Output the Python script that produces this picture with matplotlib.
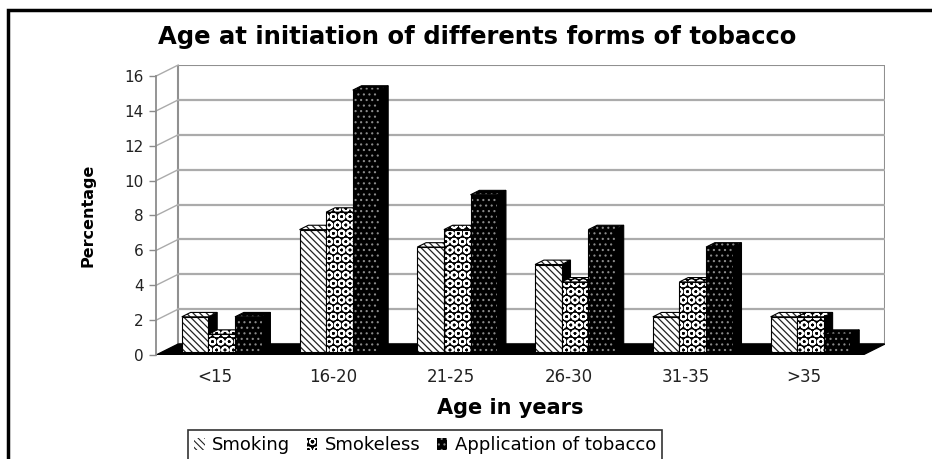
import matplotlib
matplotlib.use("Agg")
import matplotlib.pyplot as plt
from matplotlib.patches import Polygon, Rectangle

plt.rcParams['font.family'] = ['DejaVu Sans']
plt.rcParams['hatch.linewidth'] = 0.8

ages = ['<15', '16-20', '21-25', '26-30', '31-35', '>35']
smoking = [2, 7, 6, 5, 2, 2]
smokeless = [1, 8, 7, 4, 4, 2]
application = [2, 15, 9, 7, 6, 1]
series_names = ['Smoking', 'Smokeless', 'Application of tobacco']
yticks = [0, 2, 4, 6, 8, 10, 12, 14, 16]

# fill styles per series: face, hatch colour, hatch, hatch line width
styles = [
    dict(fc='white', hc='#222222', hatch='\\\\\\\\\\', hlw=0.9),
    dict(fc='black', hc='white', hatch='OO', hlw=1.3),
    dict(fc='black', hc='#8a8a8a', hatch='...', hlw=0.8),
]


def patterned(cls, *args, st, **kw):
    # hatch line width is picked up when the patch is built
    with plt.rc_context({'hatch.linewidth': st['hlw']}):
        return cls(*args, fc=st['fc'], ec=st['hc'], hatch=st['hatch'], lw=0, **kw)


W, H = 932, 459
fig = plt.figure(figsize=(W / 100, H / 100), dpi=100)

# wall depth in data units (oblique projection)
DX, DY = 0.187, 0.63
ax = fig.add_axes([156.2 / W, 104 / H, 728.6 / W, 290 / H])
ax.set_xlim(-0.5, len(ages) - 0.5 + DX)
ax.set_ylim(0, 16 + DY)
for s in ['top', 'right', 'bottom']:
    ax.spines[s].set_visible(False)
ax.spines['left'].set_color('#8c8c8c')
ax.spines['left'].set_linewidth(1.3)
ax.spines['left'].set_bounds(0, 16)

grid = '#ababab'
x_left, x_right = -0.5, len(ages) - 0.5
# back wall and side wall
ax.add_patch(Rectangle((x_left + DX, DY), x_right - x_left, 16,
                       fc='white', ec='#909090', lw=1.5, zorder=1))
for v in yticks[1:-1]:
    ax.plot([x_left + DX, x_right + DX], [v + DY, v + DY], color=grid, lw=1.6, zorder=1.1)
for v in yticks[1:]:
    ax.plot([x_left, x_left + DX], [v, v + DY], color=grid, lw=1.0, zorder=1.1, clip_on=False)

# floor
ax.add_patch(Polygon([(x_left, 0), (x_right, 0), (x_right + DX, DY), (x_left + DX, DY)],
                     closed=True, fc='black', ec='black', lw=1, zorder=2))

bw = 0.226
f0, fb = 0.3, 0.4
bdx, bdy = fb * DX, fb * DY
z = 3
for i in range(len(ages)):
    for k, vals in enumerate([smoking, smokeless, application]):
        st = styles[k]
        v = vals[i]
        x0 = i + (k - 1.5) * bw + f0 * DX
        x1 = x0 + bw
        y0 = f0 * DY
        y1 = y0 + v
        side = [(x1, y0), (x1 + bdx, y0 + bdy), (x1 + bdx, y1 + bdy), (x1, y1)]
        top = [(x0, y1), (x1, y1), (x1 + bdx, y1 + bdy), (x0 + bdx, y1 + bdy)]
        ax.add_patch(Polygon(side, closed=True, fc='black', ec='black', lw=0.8, zorder=z))
        ax.add_patch(patterned(Polygon, top, closed=True, st=st, zorder=z + 0.1))
        ax.add_patch(Polygon(top, closed=True, fill=False, ec='black', lw=0.8, zorder=z + 0.2))
        ax.add_patch(patterned(Rectangle, (x0, y0), bw, v, st=st, zorder=z + 0.3))
        ax.add_patch(Rectangle((x0, y0), bw, v, fill=False, ec='black', lw=0.8, zorder=z + 0.4))
        z += 1

ax.set_yticks(yticks)
ax.set_yticklabels([str(t) for t in yticks])
ax.set_xticks(range(len(ages)))
ax.set_xticklabels(ages)
ax.tick_params(axis='y', length=5, width=1, color='#8c8c8c', pad=4, labelsize=11, labelcolor='#222222')
ax.tick_params(axis='x', length=0, pad=9, labelsize=12, labelcolor='#222222')

ax.set_ylabel('Percentage', fontsize=11.5, fontweight='bold')
ax.yaxis.label.set(ha='center', va='center')
ax.yaxis.set_label_coords(-0.094, 0.483)
ax.set_xlabel('Age in years', fontsize=15, fontweight='bold')
ax.xaxis.label.set(ha='center', va='center')
ax.xaxis.set_label_coords(0.4856, -0.183)

fig.text(477.5 / W, 1 - 44 / H, 'Age at initiation of differents forms of tobacco',
         ha='center', va='baseline', fontsize=17.5, fontweight='bold')

handles = []
for st in styles:
    h = patterned(Rectangle, (0, 0), 1, 1, st=st)
    h.set_edgecolor(st['hc'])
    handles.append(h)
leg = fig.legend(handles, series_names, loc='upper center', bbox_to_anchor=(425 / W, 1 - 430 / H),
                 ncol=3, fontsize=13, frameon=True, fancybox=False, edgecolor='black',
                 handlelength=0.6, handleheight=0.6, handletextpad=0.4, columnspacing=0.9,
                 borderpad=0.35, borderaxespad=0)
leg.get_frame().set_linewidth(1.2)

# outer frame of the chart area
fig.add_artist(Rectangle((8 / W, -0.2), 1.2, 1 - 10 / H + 0.2, transform=fig.transFigure,
                         fill=False, ec='black', lw=2.5))

fig.savefig('out.png', dpi=100)
